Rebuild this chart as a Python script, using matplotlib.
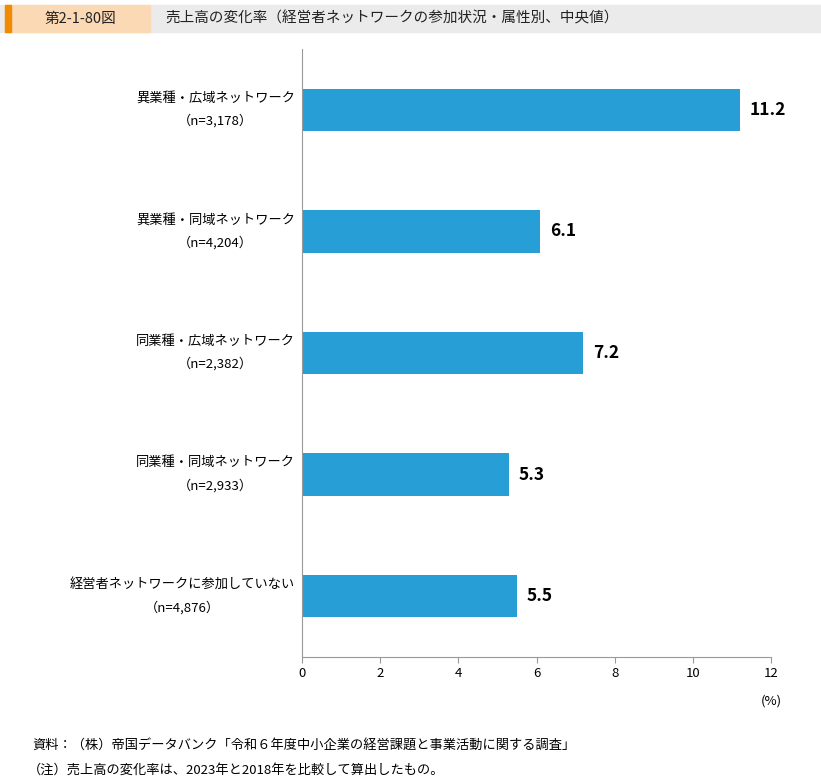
import matplotlib
matplotlib.use("Agg")
import matplotlib.pyplot as plt
from matplotlib.patches import Rectangle

plt.rcParams["font.family"] = "Noto Sans CJK JP"

categories = ["異業種・広域ネットワーク", "異業種・同域ネットワーク", "同業種・広域ネットワーク",
              "同業種・同域ネットワーク", "経営者ネットワークに参加していない"]
counts = ["（n=3,178）", "（n=4,204）", "（n=2,382）", "（n=2,933）", "（n=4,876）"]
values = [11.2, 6.1, 7.2, 5.3, 5.5]
xticks = [0, 2, 4, 6, 8, 10, 12]

W, H = 821, 782
fig = plt.figure(figsize=(W/100, H/100), dpi=100)

# header
fig.patches.append(Rectangle((0, 1-32/H), 1, 27/H, transform=fig.transFigure, color="#ebebeb", zorder=0))
fig.patches.append(Rectangle((5/W, 1-32/H), 145/W, 27/H, transform=fig.transFigure, color="#fbd9b4", zorder=1))
fig.patches.append(Rectangle((5/W, 1-32/H), 6/W, 27/H, transform=fig.transFigure, color="#f08a00", zorder=2))
fig.text(80/W, 1-18.5/H, "第2-1-80図", ha="center", va="center", fontsize=10.5, color="#222")
fig.text(165/W, 1-18.5/H, "売上高の変化率（経営者ネットワークの参加状況・属性別、中央値）",
         ha="left", va="center", fontsize=10.5, color="#222")

ax = fig.add_axes([302/W, 1-657/H, 469/W, 608/H])
ys = list(range(len(values)))
ax.barh(ys, values, height=0.35, color="#279fd6")
ax.set_ylim(len(values)-0.5, -0.5)
ax.set_xlim(0, 12)
ax.set_xticks(xticks)
ax.set_xticklabels([str(t) for t in xticks], fontsize=9.5)
ax.set_yticks([])
for s in ["top", "right"]:
    ax.spines[s].set_visible(False)
for s in ["left", "bottom"]:
    ax.spines[s].set_color("#999")
ax.tick_params(axis="x", length=4, color="#999")
for y, v in zip(ys, values):
    ax.text(v + 0.25, y, f"{v:.1f}", va="center", ha="left", fontsize=12.5, fontweight="bold")
for y, c, n in zip(ys, categories, counts):
    ax.text(-0.015, y, c + "\n" + n, transform=ax.get_yaxis_transform(), ha="right", va="center",
            multialignment="center", fontsize=9.5, linespacing=1.9)
fig.text(771/W, 1-701/H, "(%)", ha="center", va="center", fontsize=9.5)

fig.text(32/W, 1-746/H, "資料：（株）帝国データバンク「令和６年度中小企業の経営課題と事業活動に関する調査」",
         ha="left", va="center", fontsize=9.5)
fig.text(28/W, 1-770/H, "（注）売上高の変化率は、2023年と2018年を比較して算出したもの。",
         ha="left", va="center", fontsize=9.5)

fig.savefig("out.png", dpi=100)
